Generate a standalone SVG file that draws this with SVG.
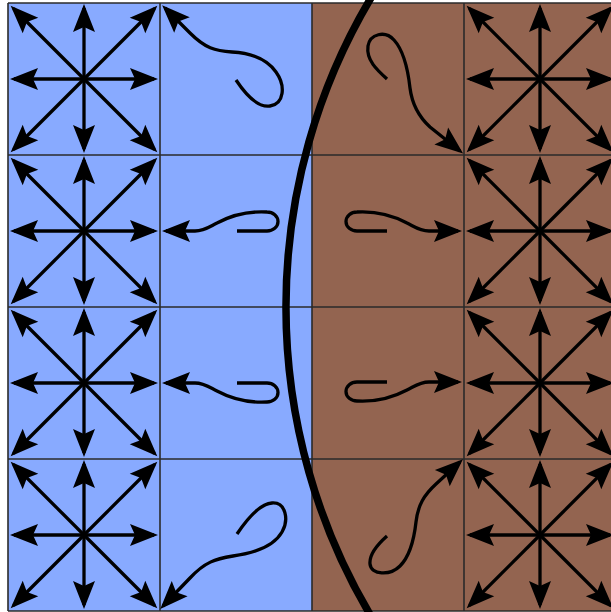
<svg xmlns="http://www.w3.org/2000/svg" xmlns:xlink="http://www.w3.org/1999/xlink" width="611" height="612" viewBox="0 0 611 612">
<style>
.blue{fill:#88aaff}
.brown{fill:#936450}
.grid{stroke:#2a2a2a;stroke-width:1.6;fill:none}
.arr{stroke:#000;stroke-width:3.3;fill:none;marker-end:url(#head)}
.curl{stroke:#000;stroke-width:3.3;fill:none;stroke-linecap:butt;marker-end:url(#head)}
.front{stroke:#000;stroke-width:7.5;fill:none}
</style>
<defs>
<marker id="head" markerUnits="userSpaceOnUse" markerWidth="30" markerHeight="24" refX="24" refY="12" orient="auto" overflow="visible">
<path d="M28,12 L0,1 L5,12 L0,23 Z" fill="#000"/>
</marker>
<g id="star">
<line class="arr" x1="0" y1="0" x2="0" y2="-71"/>
<line class="arr" x1="0" y1="0" x2="0" y2="70"/>
<line class="arr" x1="0" y1="0" x2="-70" y2="0"/>
<line class="arr" x1="0" y1="0" x2="70" y2="0"/>
<line class="arr" x1="0" y1="0" x2="-70.5" y2="-70.5"/>
<line class="arr" x1="0" y1="0" x2="70.5" y2="-70.5"/>
<line class="arr" x1="0" y1="0" x2="-70.5" y2="70.5"/>
<line class="arr" x1="0" y1="0" x2="70.5" y2="70.5"/>
</g>
<path id="hcurl" class="curl" d="M0,0 L-30,0 C-36,0 -41,-4 -41,-9.5 C-41,-15 -36,-19 -30,-19 C-12,-20 5,-16 20,-8 C28,-4 33,0 42,0 L71,0"/>
</defs>

<g id="background">
<rect class="blue" x="8" y="3" width="304" height="608"/>
<rect class="brown" x="312" y="3" width="299" height="608"/>
</g>

<g id="grid">
<line class="grid" x1="8" y1="3" x2="611" y2="3"/>
<line class="grid" x1="8" y1="155" x2="611" y2="155"/>
<line class="grid" x1="8" y1="307" x2="611" y2="307"/>
<line class="grid" x1="8" y1="459" x2="611" y2="459"/>
<line class="grid" x1="8" y1="611" x2="611" y2="611"/>
<line class="grid" x1="8" y1="3" x2="8" y2="611"/>
<line class="grid" x1="160" y1="3" x2="160" y2="611"/>
<line class="grid" x1="312" y1="3" x2="312" y2="611"/>
<line class="grid" x1="464" y1="3" x2="464" y2="611"/>
</g>

<g id="connectors">
<g id="col1">
<use xlink:href="#star" x="84" y="79"/>
<use xlink:href="#star" x="84" y="231"/>
<use xlink:href="#star" x="84" y="383"/>
<use xlink:href="#star" x="84" y="535"/>
</g>
<g id="col4">
<use xlink:href="#star" x="540" y="79"/>
<use xlink:href="#star" x="540" y="231"/>
<use xlink:href="#star" x="540" y="383"/>
<use xlink:href="#star" x="540" y="535"/>
</g>
<g id="col2">
<path class="curl" d="M236,80 C246,95 258,108 270,106 C284,104 286,86 276,72 C266,58 250,53 232,52 C215,51 205,48 190,33 L165,8"/>
<use xlink:href="#hcurl" transform="translate(237,231) scale(-1,1)"/>
<use xlink:href="#hcurl" transform="translate(237,383) scale(-1,-1)"/>
<path class="curl" d="M237,534 C245,522 258,504 272,503 C286,502 289,520 282,532 C274,546 255,553 233,556 C215,559 205,562 190,578 L163,606"/>
</g>
<g id="col3">
<path class="curl" d="M387,79 C377,70 366,60 368,46 C370,34 385,30 394,40 C404,51 408,70 410,88 C412,104 418,116 430,127 L460,151"/>
<use xlink:href="#hcurl" transform="translate(387,231)"/>
<use xlink:href="#hcurl" transform="translate(387,382) scale(1,-1)"/>
<path class="curl" d="M387,536 C378,544 369,554 370,564 C371,575 390,576 400,566 C410,556 414,540 416,522 C418,505 424,495 436,484 L460,462"/>
</g>
</g>

<g id="front">
<path class="front" d="M372.7,-5 A604.5,604.5 0 0 0 372.7,619"/>
</g>
</svg>
